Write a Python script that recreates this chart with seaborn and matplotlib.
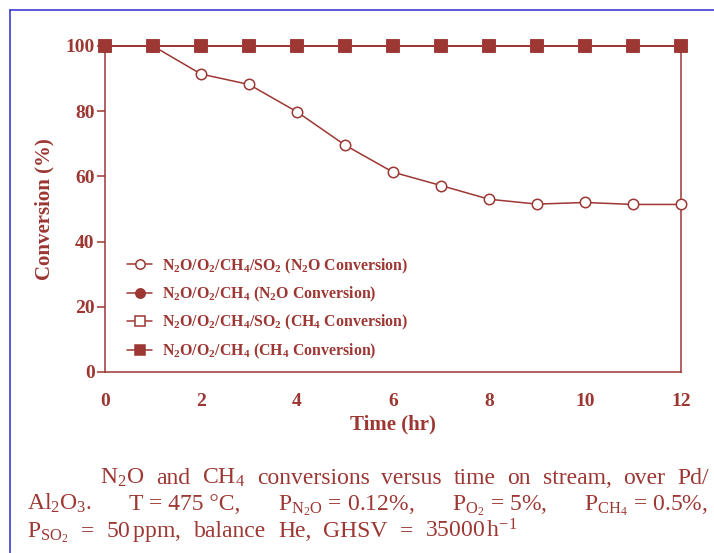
import matplotlib
matplotlib.use("Agg")
import matplotlib.pyplot as plt
import seaborn as sns
import numpy as np
import pandas as pd
from matplotlib.lines import Line2D

# ---- data ----
time_hr = [0, 1, 2, 3, 4, 5, 6, 7, 8, 9, 10, 11, 12]
n2o_with_so2 = [100, 100, 91.4, 88.2, 79.8, 69.6, 61.3, 57.2, 53.0, 51.5, 52.0, 51.4, 51.4]
n2o_no_so2 = [100, 100, 100, 100, 100, 100, 100, 100, 100, 100, 100, 100, 100]
ch4_with_so2 = [100, 100, 100, 100, 100, 100, 100, 100, 100, 100, 100, 100, 100]
ch4_no_so2 = [100, 100, 100, 100, 100, 100, 100, 100, 100, 100, 100, 100, 100]
series_labels = [
    r"N$_\mathbf{2}$O/O$_\mathbf{2}$/CH$_\mathbf{4}$/SO$_\mathbf{2}$ (N$_\mathbf{2}$O Conversion)",
    r"N$_\mathbf{2}$O/O$_\mathbf{2}$/CH$_\mathbf{4}$ (N$_\mathbf{2}$O Conversion)",
    r"N$_\mathbf{2}$O/O$_\mathbf{2}$/CH$_\mathbf{4}$/SO$_\mathbf{2}$ (CH$_\mathbf{4}$ Conversion)",
    r"N$_\mathbf{2}$O/O$_\mathbf{2}$/CH$_\mathbf{4}$ (CH$_\mathbf{4}$ Conversion)",
]
x_ticks = [0, 2, 4, 6, 8, 10, 12]
y_ticks = [0, 20, 40, 60, 80, 100]
caption_line1 = [r"N$_2$O", "and", r"CH$_4$", "conversions", "versus", "time", "on",
                 "stream,", "over", "Pd/"]
caption_line2 = [r"Al$_2$O$_3$.", "T = 475 °C,", r"P$_{\mathrm{N_2O}}$ = 0.12%,",
                 r"P$_{\mathrm{O_2}}$ = 5%,", r"P$_{\mathrm{CH_4}}$ = 0.5%,"]
caption_line3 = [r"P$_{\mathrm{SO_2}}$", "=", r"50$\,$ppm,", "balance", "He,", "GHSV",
                 "=", "35000$\\,$h$^{-1}$"]

sns.set_style("white")
plt.rcParams["font.family"] = ["Liberation Serif", "DejaVu Serif"]
plt.rcParams["mathtext.fontset"] = "custom"
plt.rcParams["mathtext.rm"] = "Liberation Serif"
plt.rcParams["mathtext.it"] = "Liberation Serif:italic"
plt.rcParams["mathtext.bf"] = "Liberation Serif:bold"

C = "#9c3733"
W, H = 714, 553

fig = plt.figure(figsize=(W / 100, H / 100), dpi=100)
ax = fig.add_axes([105 / W, 1 - 372 / H, (681 - 105) / W, (372 - 46) / H])

common = dict(ax=ax, color=C, linewidth=1.1, clip_on=False,
              markeredgewidth=1.1, markeredgecolor=C)
sns.lineplot(x=time_hr, y=n2o_with_so2, marker="o", markerfacecolor="white", markersize=7.5,
             label=series_labels[0], zorder=3, **common)
sns.lineplot(x=time_hr, y=n2o_no_so2, marker="o", markerfacecolor=C, markersize=7.5,
             label=series_labels[1], zorder=4, **common)
sns.lineplot(x=time_hr, y=ch4_with_so2, marker="s", markerfacecolor="white", markersize=8.5,
             label=series_labels[2], zorder=5, **common)
sns.lineplot(x=time_hr, y=ch4_no_so2, marker="s", markerfacecolor=C, markersize=8.5,
             label=series_labels[3], zorder=6, **common)

ax.set_xlim(0, 12)
ax.set_ylim(0, 100)
ax.set_xticks(x_ticks)
ax.set_yticks(y_ticks)
ax.set_xticklabels([str(v) for v in x_ticks], fontsize=14, fontweight="bold", color=C)
ax.set_yticklabels([str(v) for v in y_ticks], fontsize=14, fontweight="bold", color=C)
ax.tick_params(axis="x", direction="in", length=5, width=1.1, color=C, pad=15)
ax.tick_params(axis="y", direction="out", length=6, width=1.1, color=C, pad=1.5, left=True)
for s in ["left", "bottom", "right"]:
    ax.spines[s].set_visible(True)
    ax.spines[s].set_color(C)
    ax.spines[s].set_linewidth(1.1)
ax.spines["top"].set_visible(False)
ax.set_xlabel("Time (hr)", fontsize=15, fontweight="bold", color=C, labelpad=3)
ax.set_ylabel("Conversion (%)", fontsize=15, fontweight="bold", color=C, labelpad=8)

leg = ax.legend(loc="upper left", bbox_to_anchor=(0.027, 0.374), frameon=False,
                fontsize=11.4, handlelength=1.6, handletextpad=0.6,
                labelspacing=0.58, borderaxespad=0, markerscale=0.9)
for t in leg.get_texts():
    t.set_color(C)
    t.set_fontweight("bold")

# caption (justified lines)
cap_fs = 17
renderer = fig.canvas.get_renderer()


def justified(tokens, x0, x1, ybase):
    texts = [fig.text(0, 1 - ybase / H, tok, fontsize=cap_fs, color=C,
                      ha="left", va="baseline") for tok in tokens]
    widths = [t.get_window_extent(renderer).width for t in texts]
    gap = ((x1 - x0) - sum(widths)) / (len(tokens) - 1)
    x = x0
    for t, w in zip(texts, widths):
        t.set_x(x / W)
        x += w + gap


justified(caption_line1, 100, 709, 484)
justified(caption_line2, 27, 708, 510)
justified(caption_line3, 27, 518, 537)

# page frame
blue = "#3b3bd6"
fig.add_artist(Line2D([10 / W, 1], [1 - 10 / H, 1 - 10 / H], color=blue, lw=1.2,
                      transform=fig.transFigure))
fig.add_artist(Line2D([10 / W, 10 / W], [0, 1 - 10 / H], color=blue, lw=1.2,
                      transform=fig.transFigure))

fig.savefig("out.png", dpi=100)
